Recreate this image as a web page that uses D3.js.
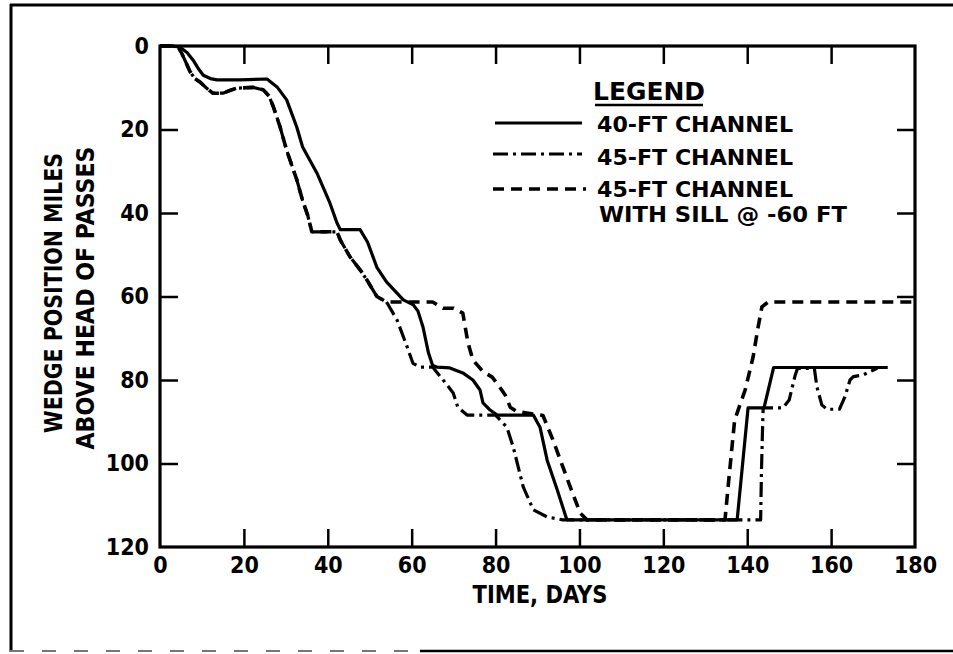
<!DOCTYPE html>
<html>
<head>
<meta charset="utf-8">
<script src="https://cdn.jsdelivr.net/npm/d3@7"></script>
<style>
  body { margin: 0; background: #fff; }
  svg { display: block; }
  text { font-family: "Liberation Sans Narrow", "DejaVu Sans Condensed", "Arial Narrow", sans-serif; font-weight: bold; fill: #000; }
</style>
</head>
<body>
<div id="vis"></div>
<script>
// ---------- DATA ----------
const xTicks = [0, 20, 40, 60, 80, 100, 120, 140, 160, 180];
const yTicks = [0, 20, 40, 60, 80, 100, 120];

// [time in days, wedge position in miles above head of passes]
const channel40 = [
  [0, 0], [3, 0], [4.8, 0.3], [6.5, 1.6], [7.9, 3.4], [9, 5.2], [10.3, 7], [12, 7.8], [13.6, 8.1],
  [19, 8.1], [25.5, 7.9], [27.9, 9.8], [30.2, 12.9], [32.6, 19.4], [34, 24.2], [37.4, 30.4],
  [40.5, 37.6], [42.2, 42.4], [43, 44], [47.7, 44], [49.5, 47], [51.7, 53], [54, 56.5],
  [56.5, 59.2], [58, 60.8], [60.4, 62], [61.5, 63.5], [62.7, 67.3], [64, 73.5], [65, 76.5],
  [66, 76.9], [69.1, 77.1], [72.2, 78.3], [74.6, 80], [76.3, 82.4], [77, 85.5], [78.7, 87.2],
  [80.4, 88.4], [89, 88.4], [90.6, 91.3], [92.3, 99.2], [94.7, 106.3], [97, 113.5],
  [137.6, 113.5], [140.2, 86.7], [144, 86.7], [146.3, 77], [173.5, 77]
];

// both 45-ft runs follow the same track up to about day 54
const common45 = [
  [0, 0], [3, 0], [4.5, 0.5], [5.2, 1.8], [6.2, 4], [7.2, 6.2], [8.3, 7.8], [9.5, 8.6], [11, 10],
  [12.6, 11.3], [15, 11.3], [16.8, 10.6], [18.3, 10.1], [22.2, 9.9], [24.6, 10.5], [26, 12],
  [27, 14.5], [28.6, 19.3], [30.2, 25], [32.6, 32], [34, 37], [35.2, 40.5], [36.2, 44.5],
  [42.2, 44.5], [43, 46.5], [45.3, 50.5], [47.7, 53.6], [49.3, 56], [51.7, 60], [54, 61.3]
];

const channel45 = [
  [56.5, 65.6], [58.9, 72], [60.3, 76], [62, 76.9], [65, 76.9], [67.5, 80], [69.9, 83.1],
  [71, 86.5], [73.2, 88.4], [80, 88.4], [82.7, 91.3], [84.2, 96], [86.6, 105.6], [89, 111.1],
  [92.3, 112.8], [96, 113.5], [143.2, 113.5], [143.4, 101.6], [143.6, 93.6], [143.8, 86.7],
  [148.5, 86.7], [150, 84.8], [151.4, 79], [152, 77.2], [156, 77.2], [156.6, 81.6],
  [157.8, 86], [159, 87], [162, 87], [163.3, 84], [164.5, 80], [165.3, 79.2], [167.6, 78.8],
  [169.3, 78], [171, 77.2]
];

const channel45Sill = [
  [65, 61.3], [67.5, 62.8], [70, 62.8], [72.2, 64], [73.4, 71], [74.6, 75.2], [77, 78],
  [79.2, 79.3], [81, 81.7], [82.3, 83.6], [83.5, 86.5], [85, 87.5], [91.3, 88.5], [93.7, 94.4],
  [97.8, 105.6], [100.2, 111.9], [101.8, 113.5], [134.7, 113.5], [135.5, 105], [137, 89.6],
  [139.5, 82.4], [141.4, 74.5], [142.6, 67.3], [143.5, 62.5], [145, 61.3], [180, 61.3]
];

const legendLabels = ["40-FT CHANNEL", "45-FT CHANNEL", "45-FT CHANNEL"];
const legendNote = "WITH SILL @ -60 FT";

// ---------- FRAME ----------
const FRAME_WIDTH = 953;
const FRAME_HEIGHT = 654;
const PLOT = { left: 160, right: 915, top: 46, bottom: 547 };
const TICK = 18;

const svg = d3.select("#vis")
  .append("svg")
  .attr("width", FRAME_WIDTH)
  .attr("height", FRAME_HEIGHT);

const x = d3.scaleLinear().domain([0, 180]).range([PLOT.left, PLOT.right]);
const y = d3.scaleLinear().domain([0, 120]).range([PLOT.top, PLOT.bottom]);

// outer page border (scanned sheet)
svg.append("line").attr("x1", 10).attr("x2", 953).attr("y1", 5).attr("y2", 5)
  .attr("stroke", "#000").attr("stroke-width", 3);
svg.append("line").attr("x1", 11).attr("x2", 11).attr("y1", 4).attr("y2", 652)
  .attr("stroke", "#000").attr("stroke-width", 3);
svg.append("line").attr("x1", 10).attr("x2", 420).attr("y1", 651).attr("y2", 651)
  .attr("stroke", "#777").attr("stroke-width", 2).attr("stroke-dasharray", "14,18");
svg.append("line").attr("x1", 420).attr("x2", 953).attr("y1", 651).attr("y2", 651)
  .attr("stroke", "#000").attr("stroke-width", 2.5);

// ---------- AXES ----------
function styleAxis(g) {
  g.select(".domain").remove();
  g.selectAll(".tick line").attr("stroke", "#000").attr("stroke-width", 2.5);
  g.selectAll(".tick text").style("font-size", "23px");
}

svg.append("g")
  .attr("transform", `translate(0,${PLOT.bottom})`)
  .call(d3.axisBottom(x).tickValues(xTicks).tickSizeInner(-TICK).tickSizeOuter(0).tickPadding(10))
  .call(styleAxis)
  .call(g => g.selectAll(".tick line").filter(d => d === 0 || d === 180).remove());

svg.append("g")
  .attr("transform", `translate(0,${PLOT.top})`)
  .call(d3.axisTop(x).tickValues(xTicks.slice(1, -1)).tickSizeInner(-TICK).tickSizeOuter(0).tickFormat(""))
  .call(styleAxis);

svg.append("g")
  .attr("transform", `translate(${PLOT.left},0)`)
  .call(d3.axisLeft(y).tickValues(yTicks).tickSizeInner(-TICK).tickSizeOuter(0).tickPadding(11))
  .call(styleAxis)
  .call(g => g.selectAll(".tick line").filter(d => d === 0 || d === 120).remove());

svg.append("g")
  .attr("transform", `translate(${PLOT.right},0)`)
  .call(d3.axisRight(y).tickValues(yTicks.slice(1, -1)).tickSizeInner(-TICK).tickSizeOuter(0).tickFormat(""))
  .call(styleAxis);

// plot box
svg.append("rect")
  .attr("x", PLOT.left).attr("y", PLOT.top)
  .attr("width", PLOT.right - PLOT.left).attr("height", PLOT.bottom - PLOT.top)
  .attr("fill", "none").attr("stroke", "#000").attr("stroke-width", 3.2);

// axis titles
svg.append("text")
  .attr("x", 540).attr("y", 603)
  .attr("text-anchor", "middle")
  .attr("textLength", 135).attr("lengthAdjust", "spacingAndGlyphs")
  .style("font-size", "24px")
  .text("TIME, DAYS");

svg.append("text")
  .attr("transform", "translate(62,293) rotate(-90)")
  .attr("text-anchor", "middle")
  .attr("textLength", 280).attr("lengthAdjust", "spacingAndGlyphs")
  .style("font-size", "25px")
  .text("WEDGE POSITION MILES");

svg.append("text")
  .attr("transform", "translate(94,298) rotate(-90)")
  .attr("text-anchor", "middle")
  .attr("textLength", 303).attr("lengthAdjust", "spacingAndGlyphs")
  .style("font-size", "25px")
  .text("ABOVE HEAD OF PASSES");

// ---------- LINES ----------
const line = d3.line()
  .x(d => x(d[0]))
  .y(d => y(d[1]))
  .curve(d3.curveLinear);

const series = [
  { data: channel40, dash: null, width: 3.2 },
  { data: common45.concat(channel45), dash: "15,5,3,5", width: 3.2 },
  { data: common45.concat(channel45Sill), dash: "11,7", width: 3.6 }
];

svg.append("g")
  .selectAll("path")
  .data(series)
  .enter()
  .append("path")
  .attr("d", s => line(s.data))
  .attr("fill", "none")
  .attr("stroke", "#000")
  .attr("stroke-width", s => s.width)
  .attr("stroke-linejoin", "round")
  .attr("stroke-dasharray", s => s.dash);

// ---------- LEGEND ----------
const legend = svg.append("g");

legend.append("text")
  .attr("x", 593).attr("y", 100)
  .attr("textLength", 112).attr("lengthAdjust", "spacingAndGlyphs")
  .style("font-size", "24px")
  .text("LEGEND");
legend.append("line")
  .attr("x1", 595).attr("x2", 703).attr("y1", 105).attr("y2", 105)
  .attr("stroke", "#000").attr("stroke-width", 2.5);

const legendRows = [
  { sampleY: 123, textY: 132, x1: 495, x2: 582 },
  { sampleY: 154, textY: 165, x1: 493, x2: 582 },
  { sampleY: 189, textY: 197, x1: 493, x2: 586 }
];

legend.selectAll(".sample")
  .data(legendRows)
  .enter()
  .append("line")
  .attr("class", "sample")
  .attr("x1", r => r.x1).attr("x2", r => r.x2)
  .attr("y1", r => r.sampleY).attr("y2", r => r.sampleY)
  .attr("stroke", "#000")
  .attr("stroke-width", (r, i) => series[i].width)
  .attr("stroke-dasharray", (r, i) => series[i].dash);

legend.selectAll(".label")
  .data(legendRows)
  .enter()
  .append("text")
  .attr("class", "label")
  .attr("x", 597).attr("y", r => r.textY)
  .attr("textLength", 196).attr("lengthAdjust", "spacingAndGlyphs")
  .style("font-size", "21px")
  .text((r, i) => legendLabels[i]);

legend.append("text")
  .attr("x", 599).attr("y", 222)
  .attr("textLength", 248).attr("lengthAdjust", "spacingAndGlyphs")
  .style("font-size", "21px")
  .text(legendNote);
</script>
</body>
</html>
